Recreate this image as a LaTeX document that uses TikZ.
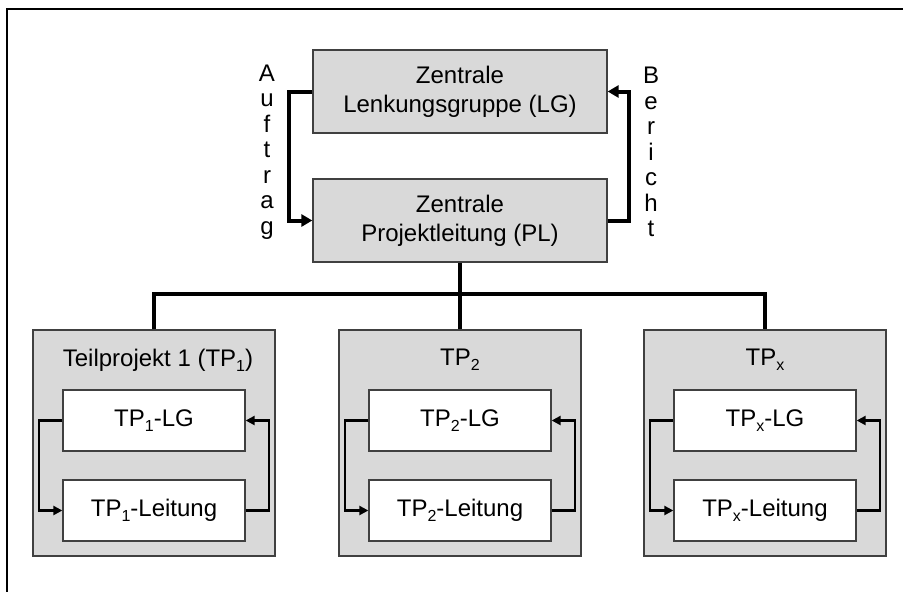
\documentclass[tikz,border=0pt]{standalone}
\usepackage{fontspec}
\setmainfont{Liberation Sans}
\usetikzlibrary{arrows.meta}
\definecolor{boxgray}{RGB}{217,217,217}
\definecolor{edgegray}{RGB}{64,64,64}
\newcommand{\lowsub}[1]{\raisebox{-5pt}{\fontsize{16}{16}\selectfont #1}}
\begin{document}
\begin{tikzpicture}[x=1pt,y=-1pt,
  font=\fontsize{24}{29}\selectfont,
  graybox/.style={draw=edgegray, line width=1.3pt, fill=boxgray, inner sep=0pt, align=center},
  whitebox/.style={draw=edgegray, line width=1.3pt, fill=white, inner sep=0pt, align=center},
  mainline/.style={line width=4pt, line join=miter},
  mainarrow/.style={mainline, -{Triangle[length=11pt,width=12pt]}},
  subarrow/.style={line width=2.2pt, line join=miter, -{Triangle[length=9pt,width=9pt]}},
  letters/.style={align=center, inner sep=0pt, font=\fontsize{24}{25.5}\selectfont}]
\useasboundingbox (0,0) rectangle (903,592);
% frame
\coordinate (fbl) at (7,592);
\coordinate (ftl) at (7,9);
\coordinate (ftr) at (903,9);
\draw[line width=2pt] (fbl) -- (ftl) -- (ftr);
% central boxes
\node[graybox, minimum width=294pt, minimum height=83pt] (LG) at (460,91.5) {Zentrale\\Lenkungsgruppe (LG)};
\node[graybox, minimum width=294pt, minimum height=83pt] (PL) at (460,220.5) {Zentrale\\Projektleitung (PL)};
\node[letters] (auf) at (267,152) {A\\u\\f\\t\\r\\a\\g};
\node[letters] (ber) at (651,152) {B\\e\\r\\i\\c\\h\\t};
\draw[mainarrow] (LG.west) -- ++(-23,0) |- (PL.west);
\draw[mainarrow] (PL.east) -- ++(21,0) |- (LG.east);
% sub-project boxes
\node[graybox, minimum width=242pt, minimum height=226pt] (TP1) at (154,443) {};
\node[graybox, minimum width=242pt, minimum height=226pt] (TP2) at (460,443) {};
\node[graybox, minimum width=242pt, minimum height=226pt] (TPx) at (765,443) {};
\node (T1) at (158,360) {Teilprojekt 1 (TP\lowsub{1})};
\node (T2) at (460,360) {TP\lowsub{2}};
\node (Tx) at (765,360) {TP\lowsub{x}};
% tree
\draw[mainline] (PL.south) -- (TP2.north);
\draw[mainline] (TP1.north) -- ++(0,-35) -| (TPx.north);
% inner boxes
\node[whitebox, minimum width=182pt, minimum height=61pt] (L1) at (154,420.5) {TP\lowsub{1}-LG};
\node[whitebox, minimum width=182pt, minimum height=61pt] (M1) at (154,510.5) {TP\lowsub{1}-Leitung};
\node[whitebox, minimum width=182pt, minimum height=61pt] (L2) at (460,420.5) {TP\lowsub{2}-LG};
\node[whitebox, minimum width=182pt, minimum height=61pt] (M2) at (460,510.5) {TP\lowsub{2}-Leitung};
\node[whitebox, minimum width=182pt, minimum height=61pt] (Lx) at (765,420.5) {TP\lowsub{x}-LG};
\node[whitebox, minimum width=182pt, minimum height=61pt] (Mx) at (765,510.5) {TP\lowsub{x}-Leitung};
\foreach \s in {1,2,x}{
  \draw[subarrow] (L\s.west) -- ++(-23,0) |- (M\s.west);
  \draw[subarrow] (M\s.east) -- ++(23,0) |- (L\s.east);
}
\end{tikzpicture}
\end{document}
